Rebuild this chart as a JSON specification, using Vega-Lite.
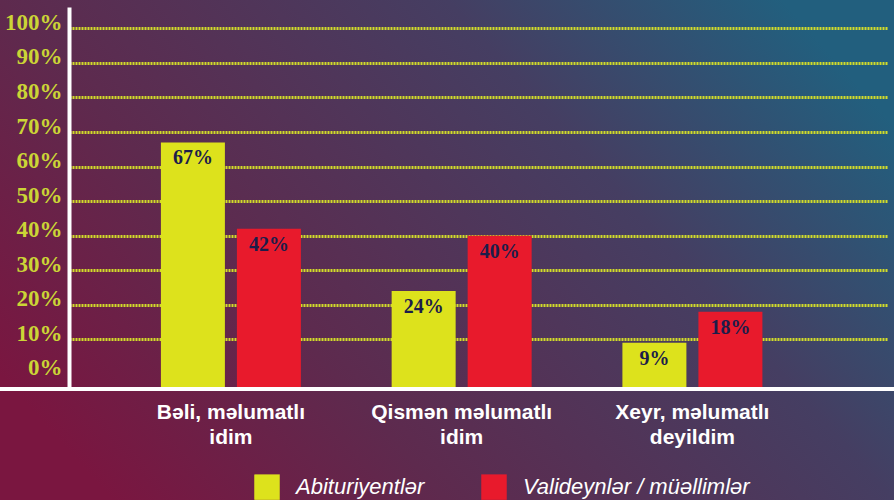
{
  "$schema": "https://vega.github.io/schema/vega-lite/v6.json",
  "width": 894,
  "height": 500,
  "autosize": {"type": "none"},
  "padding": 0,
  "background": "#5a2a52",
  "view": {
    "stroke": null,
    "fill": {
      "gradient": "linear",
      "x1": 0, "y1": 0.75, "x2": 1, "y2": 0.25,
      "stops": [
        {"offset": 0, "color": "#7a1640"},
        {"offset": 0.3, "color": "#5e2a4e"},
        {"offset": 0.7, "color": "#453e62"},
        {"offset": 1, "color": "#225f7e"}
      ]
    }
  },
  "datasets": {
    "survey": [
      {"q": "Bəli, məlumatlı idim", "g": "Abituriyentlər", "v": 0.67},
      {"q": "Bəli, məlumatlı idim", "g": "Valideynlər / müəllimlər", "v": 0.42},
      {"q": "Qismən məlumatlı idim", "g": "Abituriyentlər", "v": 0.24},
      {"q": "Qismən məlumatlı idim", "g": "Valideynlər / müəllimlər", "v": 0.40},
      {"q": "Xeyr, məlumatlı deyildim", "g": "Abituriyentlər", "v": 0.09},
      {"q": "Xeyr, məlumatlı deyildim", "g": "Valideynlər / müəllimlər", "v": 0.18}
    ],
    "baseline": [{"v": -0.044}]
  },
  "encoding": {
    "y": {
      "field": "v", "type": "quantitative",
      "scale": {"domain": [-0.044, 1.062], "range": [389, 7], "nice": false, "zero": false},
      "axis": {
        "title": null, "offset": -69,
        "values": [0, 0.1, 0.2, 0.3, 0.4, 0.5, 0.6, 0.7, 0.8, 0.9, 1],
        "labelExpr": "format(datum.value, '.0%')",
        "labelFont": "Liberation Serif", "labelFontWeight": "bold", "labelFontSize": 23,
        "labelColor": "#cbd536", "labelPadding": -47, "labelOffset": -6,
        "domain": true, "domainColor": "#ffffff", "domainWidth": 4, "domainOpacity": 1,
        "grid": true, "gridColor": "#d2dc2a", "gridWidth": 3, "gridDash": [2, 1],
        "gridOpacity": {"condition": {"test": "datum.value <= 0", "value": 0}, "value": 1},
        "ticks": true, "tickWidth": 4, "tickSize": 54, "tickColor": "#ffffff",
        "tickOpacity": {"expr": "datum.value < 0 ? 1 : 0"}
      }
    }
  },
  "layer": [
    {
      "data": {"name": "survey"},
      "mark": {"type": "bar"},
      "encoding": {
        "x": {
          "field": "q", "type": "nominal", "sort": null,
          "scale": {"range": [69, 887], "paddingInner": 0, "paddingOuter": 0.2725, "align": 0.37},
          "axis": {
            "title": null, "orient": "bottom", "offset": -111,
            "domain": false, "ticks": false, "grid": false, "labelAngle": 0,
            "labelFont": "Liberation Sans", "labelFontWeight": "bold", "labelFontSize": 21,
            "labelColor": "white", "labelPadding": 12, "labelLineHeight": 25, "labelLimit": 400,
            "labelExpr": "datum.value == 'Bəli, məlumatlı idim' ? ['Bəli, məlumatlı', 'idim'] : datum.value == 'Qismən məlumatlı idim' ? ['Qismən məlumatlı', 'idim'] : ['Xeyr, məlumatlı', 'deyildim']"
          }
        },
        "xOffset": {
          "field": "g", "type": "nominal", "sort": null,
          "scale": {"paddingInner": 0.158, "paddingOuter": 0.597}
        },
        "y2": {"datum": -0.044},
        "color": {
          "field": "g", "type": "nominal", "sort": null,
          "scale": {"range": ["#dde21c", "#e81a2c"]},
          "legend": {
            "title": null, "orient": "none", "legendX": 254, "legendY": 474,
            "direction": "horizontal", "symbolType": "square", "symbolSize": 650,
            "symbolStrokeWidth": 0, "symbolOpacity": 1,
            "labelFont": "Liberation Sans", "labelFontStyle": "italic", "labelFontSize": 22,
            "labelColor": "white", "labelOffset": 16, "columnPadding": 56, "padding": 0,
            "labelLimit": 400
          }
        }
      }
    },
    {
      "data": {"name": "survey"},
      "mark": {"type": "text", "dy": 16, "baseline": "middle", "font": "Liberation Serif", "fontWeight": "bold", "fontSize": 20, "color": "#1c1d4a"},
      "encoding": {
        "x": {"field": "q", "type": "nominal", "sort": null},
        "xOffset": {"field": "g", "type": "nominal", "sort": null},
        "text": {"field": "v", "type": "quantitative", "format": ".0%"}
      }
    },
    {
      "data": {"name": "baseline"},
      "mark": {"type": "rule", "color": "white", "strokeWidth": 4},
      "encoding": {}
    }
  ]
}
